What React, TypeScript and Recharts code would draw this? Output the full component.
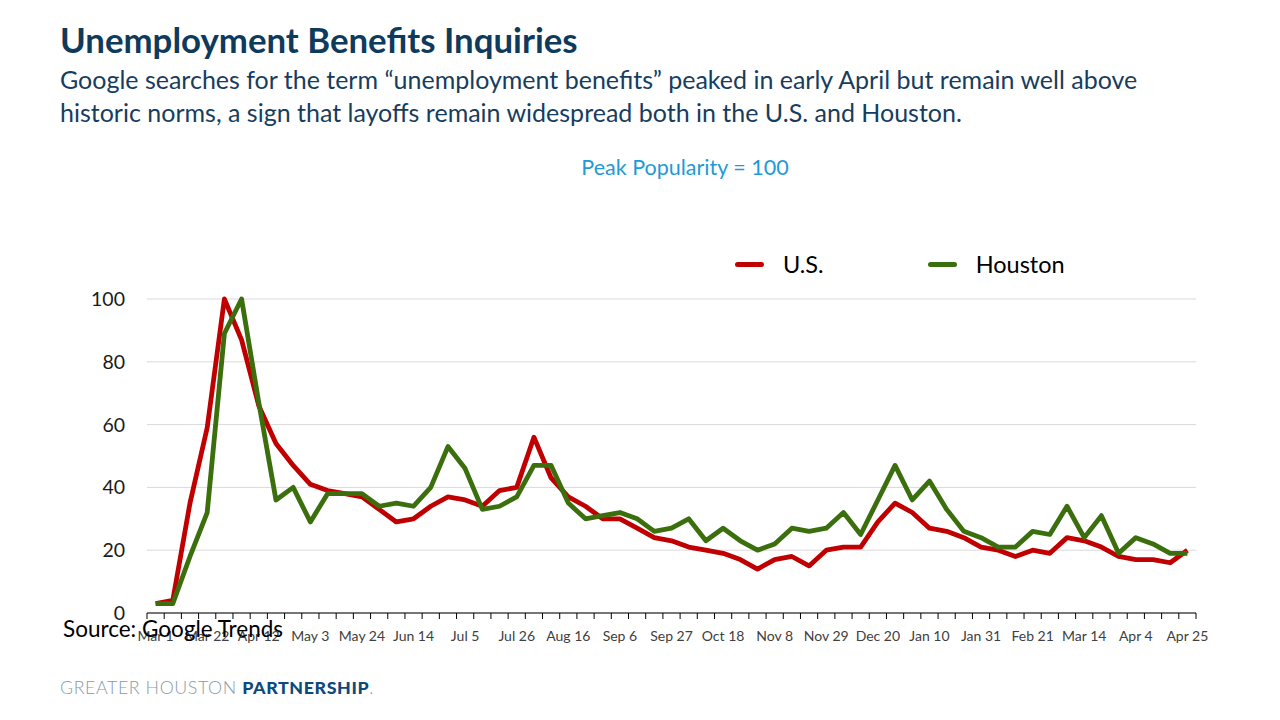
import { LineChart, Line, XAxis, YAxis, CartesianGrid } from 'recharts';

const weeks = [
  'Mar 1', 'Mar 8', 'Mar 15', 'Mar 22', 'Mar 29', 'Apr 5', 'Apr 12', 'Apr 19', 'Apr 26',
  'May 3', 'May 10', 'May 17', 'May 24', 'May 31', 'Jun 7', 'Jun 14', 'Jun 21', 'Jun 28',
  'Jul 5', 'Jul 12', 'Jul 19', 'Jul 26', 'Aug 2', 'Aug 9', 'Aug 16', 'Aug 23', 'Aug 30',
  'Sep 6', 'Sep 13', 'Sep 20', 'Sep 27', 'Oct 4', 'Oct 11', 'Oct 18', 'Oct 25',
  'Nov 1', 'Nov 8', 'Nov 15', 'Nov 22', 'Nov 29', 'Dec 6', 'Dec 13', 'Dec 20', 'Dec 27',
  'Jan 3', 'Jan 10', 'Jan 17', 'Jan 24', 'Jan 31', 'Feb 7', 'Feb 14', 'Feb 21', 'Feb 28',
  'Mar 7', 'Mar 14', 'Mar 21', 'Mar 28', 'Apr 4', 'Apr 11', 'Apr 18', 'Apr 25',
];

const usValues = [
  3, 4, 35, 59, 100, 87, 66, 54, 47, 41, 39, 38, 37, 33, 29, 30, 34, 37, 36, 34, 39,
  40, 56, 43, 37, 34, 30, 30, 27, 24, 23, 21, 20, 19, 17, 14, 17, 18, 15, 20, 21, 21,
  29, 35, 32, 27, 26, 24, 21, 20, 18, 20, 19, 24, 23, 21, 18, 17, 17, 16, 20,
];

const houstonValues = [
  3, 3, 18, 32, 89, 100, 67, 36, 40, 29, 38, 38, 38, 34, 35, 34, 40, 53, 46, 33, 34,
  37, 47, 47, 35, 30, 31, 32, 30, 26, 27, 30, 23, 27, 23, 20, 22, 27, 26, 27, 32, 25,
  36, 47, 36, 42, 33, 26, 24, 21, 21, 26, 25, 34, 24, 31, 19, 24, 22, 19, 19,
];

const yTicks = [0, 20, 40, 60, 80, 100];

const data = weeks.map((w, i) => ({ week: w, us: usValues[i], houston: houstonValues[i] }));

const FONT = 'Lato, "Open Sans", sans-serif';
const RED = '#C00000';
const GREEN = '#3B6E0C';

// plot area in page pixels
const PLOT_LEFT = 147;
const PLOT_RIGHT = 1196;
const PLOT_TOP = 299;
const PLOT_BOTTOM = 613;
const STEP = (PLOT_RIGHT - PLOT_LEFT) / weeks.length;

function WeekTick(props: any) {
  const { x, y, payload, index } = props;
  const axisY = y - 8;
  return (
    <g>
      <line x1={x - STEP / 2} x2={x - STEP / 2} y1={axisY} y2={axisY + 6} stroke="#000" strokeWidth={1} />
      {index === weeks.length - 1 && (
        <line x1={x + STEP / 2} x2={x + STEP / 2} y1={axisY} y2={axisY + 6} stroke="#000" strokeWidth={1} />
      )}
      {index % 3 === 0 && (
        <text x={x} y={y + 20} textAnchor="middle" fontSize={14} fill="#404040" fontFamily={FONT}>
          {payload.value}
        </text>
      )}
    </g>
  );
}

const legendItems = [
  { name: 'U.S.', color: RED },
  { name: 'Houston', color: GREEN },
];

export default function App() {
  return (
    <div style={{ position: 'absolute', left: 0, top: 0, width: 1280, height: 720, background: '#fff', overflow: 'hidden' }}>
      <div style={{ position: 'absolute', left: 60, top: 19, fontFamily: FONT, fontWeight: 700, fontSize: 34.8, color: '#0E3A5C' }}>
        Unemployment Benefits Inquiries
      </div>
      <div style={{ position: 'absolute', left: 60, top: 63, width: 1200, fontFamily: FONT, fontSize: 25, lineHeight: '33px', color: '#173D5E' }}>
        Google searches for the term “unemployment benefits” peaked in early April but remain well above
        <br />
        historic norms, a sign that layoffs remain widespread both in the U.S. and Houston.
      </div>
      <div style={{ position: 'absolute', left: 0, width: 1370, top: 154, textAlign: 'center', fontFamily: FONT, fontSize: 21.5, color: '#1E9AD6' }}>
        Peak Popularity = 100
      </div>

      <div style={{ position: 'absolute', left: 735, top: 250, display: 'flex', fontFamily: FONT, fontSize: 23.5, color: '#000' }}>
        {legendItems.map((it, i) => (
          <div key={it.name} style={{ display: 'flex', alignItems: 'center', marginRight: i === 0 ? 104 : 0 }}>
            <div style={{ width: 29, height: 5, borderRadius: 3, background: it.color, marginRight: 19 }} />
            <span>{it.name}</span>
          </div>
        ))}
      </div>

      <div style={{ position: 'absolute', left: 0, top: 0 }}>
        <LineChart
          width={1280}
          height={720}
          data={data}
          margin={{ top: PLOT_TOP, right: 1280 - PLOT_RIGHT, bottom: 720 - PLOT_BOTTOM - 30, left: PLOT_LEFT - 60 }}
        >
          <CartesianGrid vertical={false} stroke="#D9D9D9" />
          <XAxis
            dataKey="week"
            interval={0}
            height={30}
            tickLine={false}
            stroke="#000"
            padding={{ left: STEP / 2, right: STEP / 2 }}
            tick={<WeekTick />}
          />
          <YAxis
            width={60}
            domain={[0, 100]}
            ticks={yTicks}
            axisLine={false}
            tickLine={false}
            tickMargin={16}
            tick={{ fontSize: 19.5, fill: '#1a1a1a', fontFamily: FONT }}
          />
          <Line
            dataKey="us"
            name="U.S."
            stroke={RED}
            strokeWidth={4.8}
            dot={false}
            strokeLinejoin="round"
            isAnimationActive={false}
          />
          <Line
            dataKey="houston"
            name="Houston"
            stroke={GREEN}
            strokeWidth={4.8}
            dot={false}
            strokeLinejoin="round"
            isAnimationActive={false}
          />
        </LineChart>
      </div>

      <div style={{ position: 'absolute', left: 63, top: 615, fontFamily: FONT, fontSize: 22.5, color: '#000' }}>
        Source: Google Trends
      </div>
      <div style={{ position: 'absolute', left: 60, top: 676, fontFamily: FONT, fontSize: 17.8, letterSpacing: 0.6 }}>
        <span style={{ color: '#8A99A6', fontWeight: 300 }}>GREATER HOUSTON </span>
        <span style={{ color: '#0D4A7C', fontWeight: 900 }}>PARTNERSHIP</span>
        <span style={{ color: '#8A99A6', fontWeight: 300 }}>.</span>
      </div>
    </div>
  );
}
